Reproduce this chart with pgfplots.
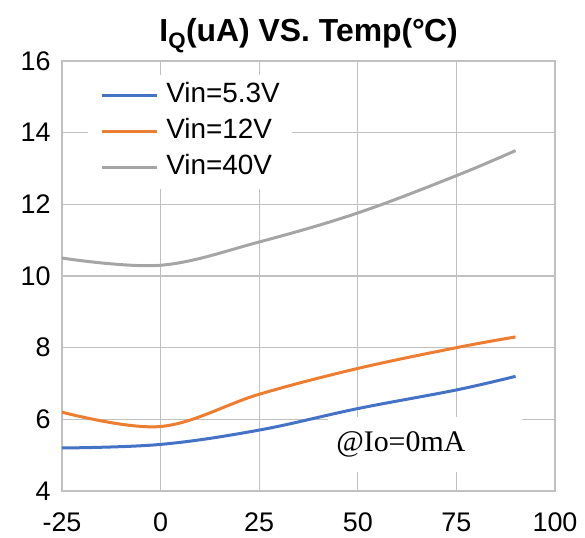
\documentclass[border=0pt]{standalone}
\usepackage{fontspec}
\setmainfont{Liberation Sans}
\newfontfamily\seriffont{Liberation Serif}
\usepackage{pgfplots}
\pgfplotsset{compat=1.18}
\definecolor{cblue}{HTML}{4472C4}
\definecolor{corange}{HTML}{ED7D31}
\definecolor{cgray}{HTML}{A5A5A5}
\definecolor{gridgray}{HTML}{C0C0C0}
\begin{document}
\begin{tikzpicture}
\path[use as bounding box] (-62bp,-47bp) rectangle (523bp,491bp);
\begin{axis}[
  scale only axis, width=493bp, height=430bp,
  xmin=-25, xmax=100, ymin=4, ymax=16,
  xtick={-25,0,25,50,75,100}, ytick={4,6,8,10,12,14,16},
  grid=major, major grid style={color=gridgray, line width=1.3bp},
  axis line style={gridgray, line width=1.3bp},
  tick style={draw=none},
  /pgf/number format/assume math mode=true,
  ticklabel style={font=\fontsize{27}{32}\selectfont},
  xticklabel style={yshift=-18bp},
  yticklabel style={xshift=-8bp},
  title={\bfseries I\textsubscript{Q}(uA) VS. Temp(°\kern-1bp C)},
  title style={font=\fontsize{32}{38}\selectfont, at={(0.5,1)}, anchor=base, yshift=14bp},
  legend style={at={(0.053,0.968)}, anchor=north west, draw=none, fill=white,
    font=\fontsize{28}{32}\selectfont, inner xsep=12bp, inner ysep=8bp, row sep=10bp,
    nodes={inner sep=0pt, text height=20bp, text depth=6bp},
    /tikz/every odd column/.append style={column sep=8bp}},
  legend cell align=left,
  legend image code/.code={\draw[#1, line width=3bp] (0bp,0bp) -- (55bp,0bp);},
]
\fill[white] (axis cs:42.4,4.53) rectangle (axis cs:91.6,6.07);
\addplot[cblue, line width=3bp, smooth, tension=0.6] coordinates {(-25,5.2) (0,5.3) (25,5.7) (50,6.3) (75,6.82) (90,7.2)};
\addlegendentry{Vin=5.3V}
\addplot[corange, line width=3bp, smooth, tension=0.6] coordinates {(-25,6.2) (0,5.8) (25,6.7) (50,7.42) (75,8.0) (90,8.3)};
\addlegendentry{Vin=12V}
\addplot[cgray, line width=3bp, smooth, tension=0.6] coordinates {(-25,10.5) (0,10.3) (25,10.95) (50,11.76) (75,12.8) (90,13.5)};
\addlegendentry{Vin=40V}
\node[anchor=west, font=\seriffont\fontsize{30}{36}\selectfont, inner sep=0pt] at (axis cs:44.5,5.31) {@Io=0mA};
\end{axis}
\end{tikzpicture}
\end{document}
